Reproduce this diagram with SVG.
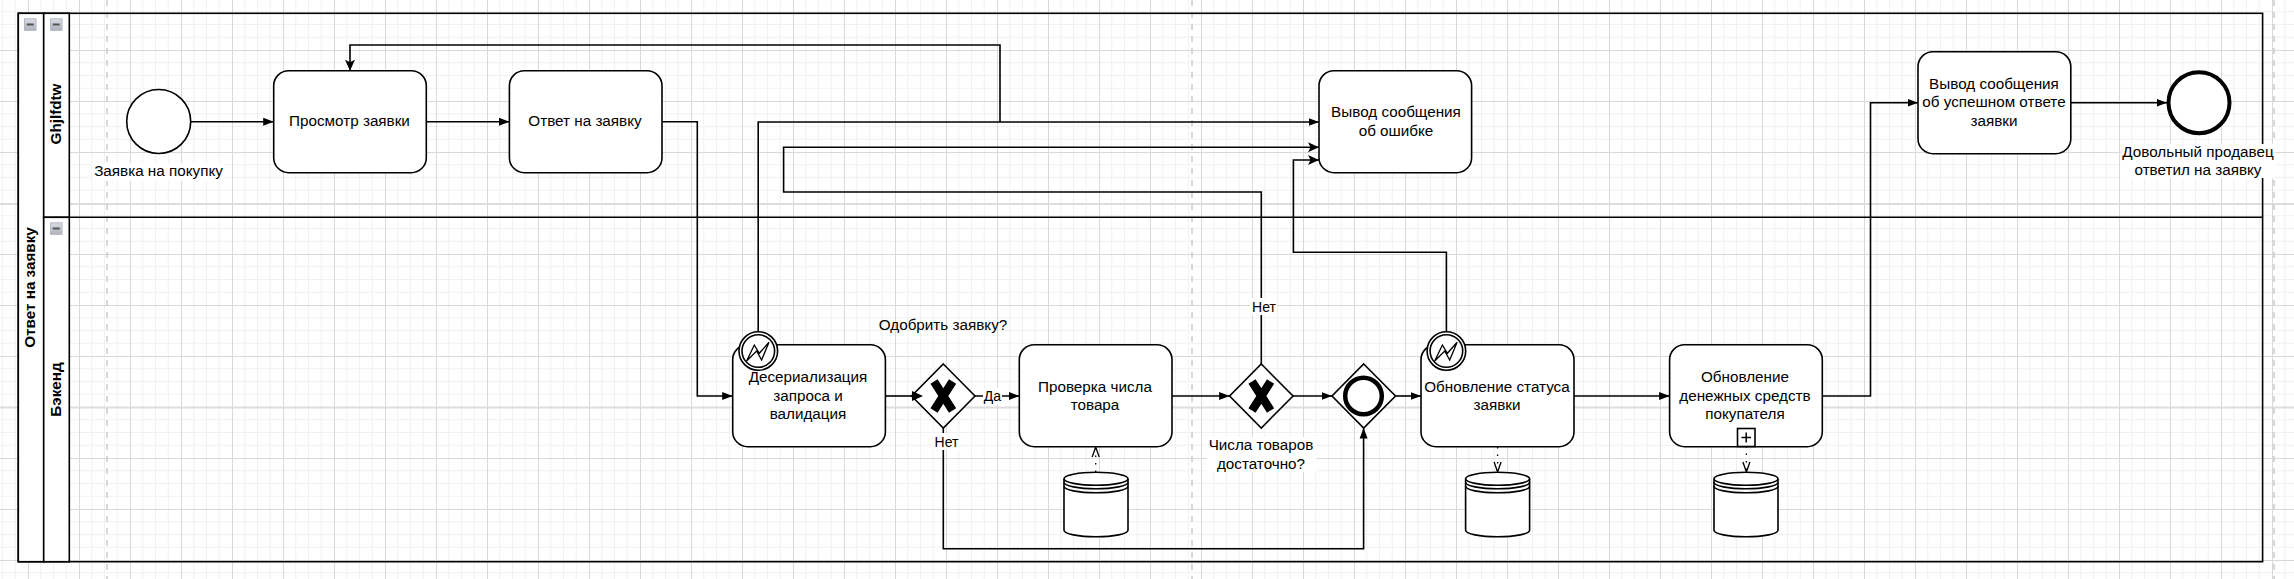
<svg xmlns="http://www.w3.org/2000/svg" width="2294" height="579" viewBox="0 0 2294 579">
<style>
text{font-family:"Liberation Sans",Arial,sans-serif;font-size:15.24px;fill:#000;text-anchor:middle}
.lbl{font-size:14px}
.hdr{font-weight:bold}
.shape{fill:#fff;stroke:#000;stroke-width:1.6}
.bg{fill:#fff}
.edge{fill:none;stroke:#000;stroke-width:1.6}
.dot{fill:none;stroke:#000;stroke-width:1.3;stroke-dasharray:1.5 6}
.guide{stroke:#ccc;stroke-width:1.5;stroke-dasharray:6 6;fill:none}
.brk{stroke:#ddd;stroke-width:2}
.mk{fill:#000;stroke:none}
</style>
<defs>
<pattern id="grid" width="51" height="51" patternUnits="userSpaceOnUse" patternTransform="translate(28 50)">
<path d="M12.75 0V51M25.5 0V51M38.25 0V51M0 12.75H51M0 25.5H51M0 38.25H51" stroke="#f1f1f1" stroke-width="1" fill="none"/>
<path d="M.5 0V51M0 .5H51" stroke="#d9d9d9" stroke-width="1" fill="none"/>
</pattern>
<linearGradient id="btn" x1="0" y1="0" x2="0" y2="1"><stop offset="0" stop-color="#dcdee6"/><stop offset="1" stop-color="#aeb1bc"/></linearGradient>
<marker id="a" markerUnits="userSpaceOnUse" markerWidth="12" markerHeight="10" refX="10.5" refY="4.5" orient="auto"><path class="mk" d="M0 .5L10.5 4.5L0 8.5Z"/></marker>
<marker id="c" markerUnits="userSpaceOnUse" markerWidth="14" markerHeight="14" refX="11" refY="6" orient="auto"><path class="mk" d="M0 1L11 6L0 11L2.5 6Z"/></marker>
<marker id="o" markerUnits="userSpaceOnUse" markerWidth="14" markerHeight="14" refX="11" refY="5" orient="auto"><path d="M1 1.5L11 5L1 8.5" fill="none" stroke="#000" stroke-width="1.3"/></marker>
<g id="minus"><rect x=".5" y=".5" width="11.5" height="11.5" fill="url(#btn)" stroke="#b4b6c0"/><rect x="2.7" y="5.2" width="7" height="2" fill="#555"/></g>
<g id="ds"><path class="shape" d="M0 6.5A32 6.5 0 0 1 64 6.5V58A32 6.5 0 0 1 0 58Z"/><path class="edge" d="M0 6.5A32 6.5 0 0 0 64 6.5M0 10A32 6.5 0 0 0 64 10M0 14A32 6.5 0 0 0 64 14"/></g>
<g id="boundary"><circle r="19.3" class="shape"/><circle r="16.3" class="shape"/><path d="M-11.7 10L-4 -6L1 2.3L10.7 -8.7L3.3 9L-1.7 0Z" fill="none" stroke="#000" stroke-width="1.3"/></g>
<g id="gwx"><path class="shape" d="M0 -32L31.7 0L0 32L-31.7 0Z"/><path d="M-9.3 -14.5L9.3 14.5M9.3 -14.5L-9.3 14.5" stroke="#000" stroke-width="8.5" fill="none"/></g>
</defs>
<rect width="2294" height="579" fill="#fff"/>
<rect width="2294" height="579" fill="url(#grid)"/>
<g id="page-guides">
<path class="brk" d="M0 204H2294M0 407.5H2294"/>
<path class="guide" d="M107 0V579M1192 0V579M2274 0V579"/>
</g>
<g id="pool">
<rect x="18.3" y="13.3" width="2244.3" height="548.4" fill="none" stroke="#000" stroke-width="1.6"/>
<rect x="18.3" y="13.3" width="25.4" height="548.4" class="shape"/>
<rect x="43.7" y="13.3" width="25.6" height="204" class="shape"/>
<rect x="43.7" y="217.3" width="25.6" height="344.4" class="shape"/>
<path d="M69.3 217.3H2262.6" stroke="#000" stroke-width="1.6"/>
<use href="#minus" x="24" y="18.3"/><use href="#minus" x="50" y="18.3"/><use href="#minus" x="50" y="222.3"/>
<text class="hdr" transform="translate(35.3 287.5) rotate(-90)">Ответ на заявку</text>
<text class="hdr" transform="translate(60.5 114) rotate(-90)">Ghjlfdtw</text>
<text class="hdr" transform="translate(60.5 389.5) rotate(-90)">Бэкенд</text>
</g>
<g id="connectors">
<path class="edge" marker-end="url(#a)" d="M190.6 121.7H273.7"/>
<path class="edge" marker-end="url(#a)" d="M426.3 121.7H509.4"/>
<path class="edge" marker-end="url(#a)" d="M662 121.7H697.3V396H732.7"/>
<path class="edge" d="M885.4 396H912"/>
<path class="edge" marker-end="url(#a)" d="M975 396H1019.3"/>
<path class="edge" marker-end="url(#a)" d="M1172 396H1229.6"/>
<path class="edge" marker-end="url(#a)" d="M1293 396H1332"/>
<path class="edge" marker-end="url(#a)" d="M1395.5 396H1421"/>
<path class="edge" marker-end="url(#a)" d="M1574 396H1669.6"/>
<path class="edge" marker-end="url(#a)" d="M1822.3 396H1870.5V102.7H1918"/>
<path class="edge" marker-end="url(#a)" d="M2070.8 102.7H2167"/>
<path class="edge" marker-end="url(#a)" d="M943.3 428V548.7H1363.6V428"/>
<path class="edge" marker-end="url(#a)" d="M758.2 332V122H1319"/>
<path class="edge" marker-end="url(#c)" d="M1000 122V45H350V70.7"/>
<path class="edge" marker-end="url(#c)" d="M1261.3 364V192H783.6V147.3H1319"/>
<path class="edge" marker-end="url(#c)" d="M1446.4 332V252.3H1293.4V160H1319"/>
<path class="dot" marker-end="url(#o)" d="M1095.7 472V447"/>
<path class="dot" marker-end="url(#o)" d="M1497.6 447V472"/>
<path class="dot" marker-end="url(#o)" d="M1746.4 446V472"/>
</g>
<g id="start-event"><circle cx="158.7" cy="121.5" r="32" class="shape"/><rect class="bg" x="92" y="163" width="133" height="18"/><text x="158.5" y="176">Заявка на покупку</text></g>
<g id="task-view"><rect x="273.7" y="70.7" width="152.6" height="102" rx="15" class="shape"/><text x="349.5" y="126">Просмотр заявки</text></g>
<g id="task-answer"><rect x="509.4" y="70.7" width="152.6" height="102" rx="15" class="shape"/><text x="585" y="126">Ответ на заявку</text></g>
<g id="task-error"><rect x="1319" y="70.7" width="152.6" height="102" rx="15" class="shape"/><text x="1396" y="117">Вывод сообщения</text><text x="1396" y="136">об ошибке</text></g>
<g id="task-success"><rect x="1918" y="51.7" width="152.8" height="102" rx="15" class="shape"/><text x="1994" y="88.5">Вывод сообщения</text><text x="1994" y="107">об успешном ответе</text><text x="1994" y="126">заявки</text></g>
<g id="end-event"><circle cx="2199" cy="102.7" r="30.5" fill="#fff" stroke="#000" stroke-width="4"/><rect class="bg" x="2121" y="144" width="154" height="34"/><text x="2198" y="156.7">Довольный продавец</text><text x="2198" y="175">ответил на заявку</text></g>
<g id="task-deserialize"><rect x="732.7" y="344.7" width="152.7" height="102" rx="15" class="shape"/><use href="#boundary" x="758.3" y="351"/><text x="808" y="382">Десериализация</text><text x="808" y="400.5">запроса и</text><text x="808" y="419">валидация</text></g>
<g id="gateway-approve"><use href="#gwx" x="943.3" y="396"/><path class="mk" d="M912 391L923 396L912 401Z"/><text x="943" y="330">Одобрить заявку?</text></g>
<g id="task-check"><rect x="1019.3" y="344.7" width="152.7" height="102" rx="15" class="shape"/><text x="1095" y="391.5">Проверка числа</text><text x="1095" y="410">товара</text></g>
<g id="store-1"><use href="#ds" x="1064" y="472.3"/></g>
<g id="gateway-count"><use href="#gwx" x="1261.3" y="396"/><rect class="bg" x="1207" y="437" width="109" height="35"/><text x="1261" y="450">Числа товаров</text><text x="1261" y="468.5">достаточно?</text></g>
<g id="gateway-merge"><path class="shape" d="M1363.7 364L1395.5 396L1363.7 428L1332 396Z"/><circle cx="1363.5" cy="396" r="18.3" fill="none" stroke="#000" stroke-width="4.5"/></g>
<g id="task-status"><rect x="1421" y="344.7" width="153" height="102" rx="15" class="shape"/><use href="#boundary" x="1446.4" y="351"/><text x="1497" y="391.5">Обновление статуса</text><text x="1497" y="410">заявки</text></g>
<g id="store-2"><use href="#ds" x="1465.6" y="472.3"/></g>
<g id="task-money"><rect x="1669.6" y="344.7" width="152.7" height="102" rx="15" class="shape"/><text x="1745" y="382">Обновление</text><text x="1745" y="400.5">денежных средств</text><text x="1745" y="419">покупателя</text><rect x="1737.5" y="428.5" width="17.5" height="18" class="shape"/><path d="M1746.2 432.5V442.5M1741.5 437.5H1751" stroke="#000" stroke-width="1.5"/></g>
<g id="store-3"><use href="#ds" x="1714" y="472.3"/></g>
<g id="edge-labels">
<rect class="bg" x="983" y="388" width="19" height="16"/><text class="lbl" x="992.5" y="401">Да</text>
<rect class="bg" x="933" y="433" width="27" height="17"/><text class="lbl" x="946.5" y="446.5">Нет</text>
<rect class="bg" x="1250" y="298" width="27" height="17"/><text class="lbl" x="1264" y="311.7">Нет</text>
</g>
</svg>
